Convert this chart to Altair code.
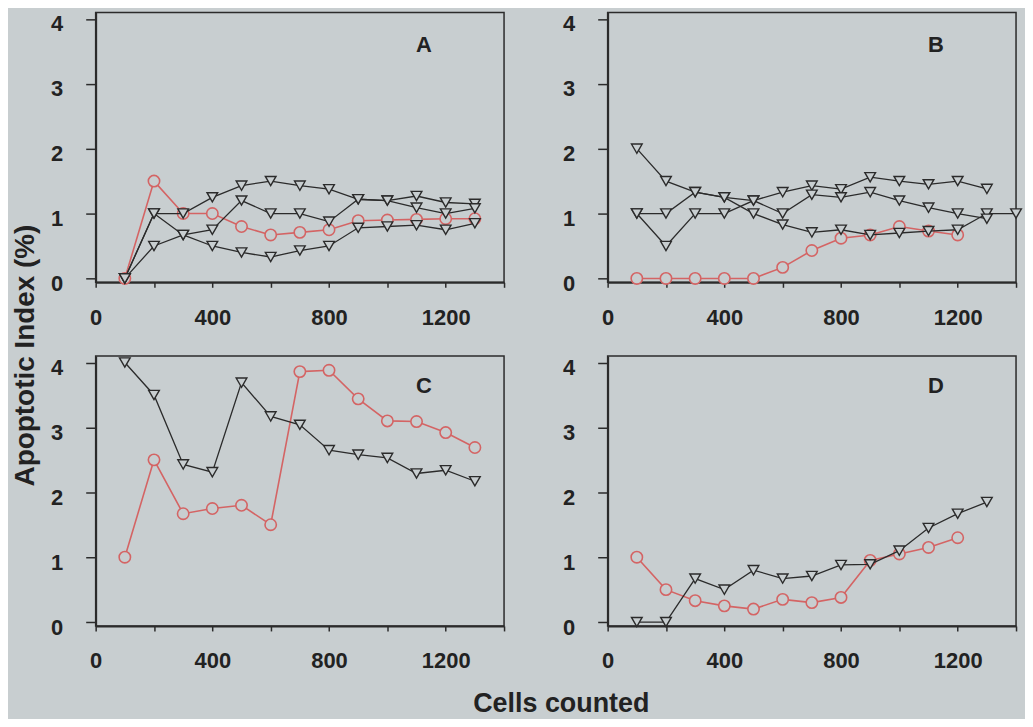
import altair as alt
import pandas as pd

BG = "#c8ced0"
DARK = "#2b2b2b"
RED = "#d46464"
FONT = "Liberation Sans"

cells = [100, 200, 300, 400, 500, 600, 700, 800, 900, 1000, 1100, 1200, 1300]
cells_long = cells + [1400]
cells_short = cells[:12]

# Panel A
a_red = [0, 1.5, 1.0, 1.0, 0.8, 0.67, 0.71, 0.75, 0.89, 0.9, 0.91, 0.92, 0.92]
a_tri1 = [0, 1.0, 1.0, 1.25, 1.43, 1.5, 1.43, 1.375, 1.22, 1.2, 1.27, 1.17, 1.15]
a_tri2 = [0, 1.0, 0.67, 0.5, 0.4, 0.33, 0.43, 0.5, 0.78, 0.8, 0.82, 0.75, 0.85]
a_tri3 = [0, 0.5, 0.67, 0.75, 1.2, 1.0, 1.0, 0.875, 1.22, 1.2, 1.09, 1.0, 1.08]

# Panel B
b_red = [0, 0, 0, 0, 0, 0.17, 0.43, 0.62, 0.67, 0.8, 0.73, 0.67]
b_tri1 = [2.0, 1.5, 1.33, 1.25, 1.0, 0.83, 0.71, 0.75, 0.67, 0.7, 0.73, 0.75, 1.0, 1.0]
b_tri2 = [1.0, 1.0, 1.33, 1.25, 1.2, 1.33, 1.43, 1.375, 1.56, 1.5, 1.45, 1.5, 1.38]
b_tri3 = [1.0, 0.5, 1.0, 1.0, 1.2, 1.0, 1.29, 1.25, 1.33, 1.2, 1.09, 1.0, 0.92]

# Panel C
c_red = [1.0, 2.5, 1.67, 1.75, 1.8, 1.5, 3.86, 3.88, 3.44, 3.1, 3.09, 2.92, 2.69]
c_tri = [4.0, 3.5, 2.43, 2.31, 3.69, 3.17, 3.04, 2.65, 2.58, 2.53, 2.29, 2.34, 2.17]

# Panel D
d_red = [1.0, 0.5, 0.33, 0.25, 0.2, 0.35, 0.3, 0.38, 0.95, 1.05, 1.15, 1.3]
d_tri = [0, 0, 0.67, 0.5, 0.8, 0.67, 0.71, 0.88, 0.89, 1.1, 1.45, 1.67, 1.85]

panel_letters = ["A", "B", "C", "D"]
letter_x = [1125, 1125, 1125, 1125]
letter_y = [3.6, 3.6, 3.63, 3.63]

x_ticks = [0, 200, 400, 600, 800, 1000, 1200, 1400]
y_ticks = [i * 0.25 for i in range(17)]

W, H = 410, 271


def series_df(xs, ys, name, kind):
    return pd.DataFrame({"cells": xs, "value": ys, "series": name, "kind": kind})


def make_panel(idx, reds, tris, ytitle=False, xtitle=False):
    red_df = pd.concat([series_df(x, y, f"r{i}", "circ") for i, (x, y) in enumerate(reds)])
    tri_df = pd.concat([series_df(x, y, f"t{i}", "tri") for i, (x, y) in enumerate(tris)])

    xaxis_kw = dict(
        values=x_ticks, format="d",
        labelExpr="datum.value % 400 === 0 ? datum.label : ''",
        tickSize=5, tickWidth=1.5, tickColor=DARK,
        domainColor=DARK, domainWidth=2,
        labelFont=FONT, labelFontSize=22, labelFontWeight="bold", labelColor="#222",
        labelPadding=20, labelOverlap=False, labelFlush=False, grid=False,
    )
    if xtitle:
        xaxis_kw.update(title="Cells counted", titleX=467, titleY=78, titleAlign="center",
                        titleBaseline="middle", titleFont=FONT, titleFontSize=27,
                        titleFontWeight="bold", titleColor="#222")
    else:
        xaxis_kw.update(title=None)

    yaxis_kw = dict(
        values=y_ticks, format="d",
        labelExpr="datum.value % 1 === 0 ? datum.label : ''",
        tickSize={"condition": {"test": "datum.value % 1 === 0", "value": 10}, "value": 6},
        tickWidth=1.5, tickColor=DARK,
        domainColor=DARK, domainWidth=2,
        labelFont=FONT, labelFontSize=22, labelFontWeight="bold", labelColor="#222",
        labelPadding=23, labelOffset=5, labelOverlap=False, labelFlush=False, grid=False,
    )
    if ytitle:
        yaxis_kw.update(title="Apoptotic Index (%)", titleX=-70, titleY=-1, titleAngle=270,
                        titleAlign="center", titleBaseline="middle", titleFont=FONT,
                        titleFontSize=28, titleFontWeight="bold", titleColor="#222")
    else:
        yaxis_kw.update(title=None)

    x = alt.X("cells:Q", scale=alt.Scale(domain=[0, 1400], nice=False, zero=False),
              axis=alt.Axis(**xaxis_kw))
    y = alt.Y("value:Q", scale=alt.Scale(domain=[-0.06, 4.1], nice=False),
              axis=alt.Axis(**yaxis_kw))

    red_base = alt.Chart(red_df)
    tri_base = alt.Chart(tri_df)
    red_line = red_base.mark_line(color=RED, strokeWidth=1.6).encode(x=x, y=y, detail="series:N")
    red_pts = red_base.mark_point(shape="circle", size=130, stroke=RED, strokeWidth=1.6,
                                  fill=BG, fillOpacity=1, opacity=1).encode(x=x, y=y)
    tri_line = tri_base.mark_line(color=DARK, strokeWidth=1.3).encode(x=x, y=y, detail="series:N")
    tri_pts = tri_base.mark_point(shape="triangle-down", size=115, stroke=DARK, strokeWidth=1.4,
                                  fill=BG, fillOpacity=1, opacity=1).encode(x=x, y=y)
    lab_df = pd.DataFrame({"cells": [letter_x[idx]], "value": [letter_y[idx]],
                           "label": [panel_letters[idx]]})
    lab = alt.Chart(lab_df).mark_text(font=FONT, fontSize=22, fontWeight="bold",
                                      color="#222").encode(x=x, y=y, text="label:N")
    return alt.layer(red_line, red_pts, tri_line, tri_pts, lab).properties(width=W, height=H)


pA = make_panel(0, [(cells, a_red)], [(cells, a_tri1), (cells, a_tri2), (cells, a_tri3)])
pB = make_panel(1, [(cells_short, b_red)], [(cells_long, b_tri1), (cells, b_tri2), (cells, b_tri3)])
pC = make_panel(2, [(cells, c_red)], [(cells, c_tri)], ytitle=True, xtitle=True)
pD = make_panel(3, [(cells_short, d_red)], [(cells, d_tri)])

chart = alt.concat(
    pA, pB, pC, pD, columns=2,
    spacing={"row": 74, "column": 104}, bounds="flush",
).properties(
    padding={"left": 3, "top": 2, "right": 0, "bottom": 0},
).configure(
    background=BG,
).configure_view(
    stroke=DARK, strokeWidth=1.5,
)

chart.save("out.html", embed_options={"renderer": "svg", "actions": False})
